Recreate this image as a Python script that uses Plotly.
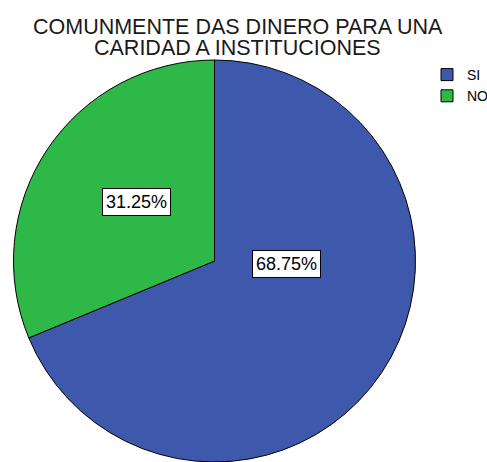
import plotly.graph_objects as go

categories = ["SI", "NO"]
values = [68.75, 31.25]
colors = ["#3E58AC", "#2EB848"]
title_lines = ["COMUNMENTE DAS DINERO PARA UNA", "CARIDAD A INSTITUCIONES"]
label_texts = ["68.75%", "31.25%"]

# page size (the browser shows the left 487 px of it)
PW, H = 502, 462
FONT = "Liberation Sans, Arial, sans-serif"

fig = go.Figure()
fig.add_trace(go.Pie(
    labels=categories,
    values=values,
    sort=False,
    direction="clockwise",
    rotation=0,
    marker=dict(colors=colors, line=dict(color="#000000", width=1)),
    textinfo="none",
    hoverinfo="label+percent",
    domain=dict(x=[4.5 / PW, 424.5 / PW], y=[0, 1 - 60 / H]),
))

label_pos = [(286, 264), (136, 202)]
for txt, (px, py) in zip(label_texts, label_pos):
    fig.add_annotation(
        x=px / PW, y=1 - py / H, xref="paper", yref="paper",
        text=txt, showarrow=False,
        font=dict(family=FONT, size=18, color="#000000"),
        bgcolor="#FFFFFF", bordercolor="#000000", borderwidth=1, borderpad=3,
        xanchor="center", yanchor="middle",
    )

for i, line in enumerate(title_lines):
    fig.add_annotation(
        x=237.5 / PW, y=1 - (26.5 + 22 * i) / H, xref="paper", yref="paper",
        text=line, showarrow=False,
        font=dict(family=FONT, size=21.5, color="#1a1a1a"),
        xanchor="center", yanchor="middle",
    )

fig.update_layout(
    width=PW, height=H,
    margin=dict(l=0, r=0, t=0, b=0),
    paper_bgcolor="#FFFFFF",
    plot_bgcolor="#FFFFFF",
    showlegend=True,
    legend=dict(
        x=427 / PW, y=1 - 59 / H, xanchor="left", yanchor="top",
        font=dict(family=FONT, size=14, color="#000000"),
        bgcolor="rgba(0,0,0,0)", tracegroupgap=0, itemwidth=30,
    ),
)

fig.write_html(
    "out.html",
    config={"displayModeBar": False},
    post_script="document.body.style.margin='0';document.body.style.overflow='hidden';",
)
